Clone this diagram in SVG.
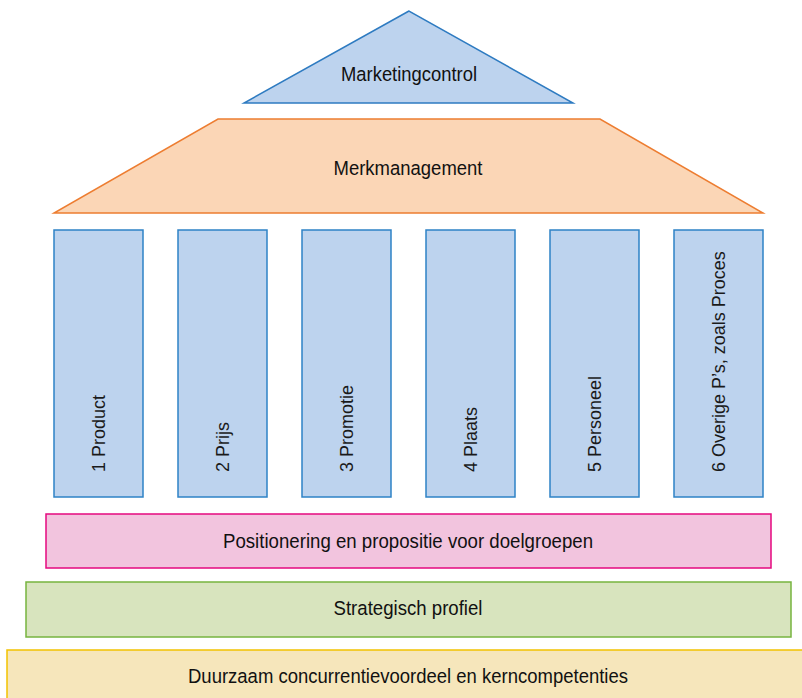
<svg xmlns="http://www.w3.org/2000/svg" width="802" height="698" viewBox="0 0 802 698">
  <style>
    .lbl { font-family: "Liberation Sans", Arial, sans-serif; font-size: 20.5px; fill: #111; text-anchor: middle; }
    .col rect { fill: #BDD3EE; stroke: #2E82C6; stroke-width: 1.5; }
    .col text { font-family: "Liberation Sans", Arial, sans-serif; font-size: 18px; fill: #1a1a1a; text-anchor: start; }
  </style>

  <!-- roof: marketing control -->
  <g id="marketingcontrol">
    <polygon points="409,11 244,103 573,103" fill="#BDD3EE" stroke="#2E7BC1" stroke-width="1.5"/>
    <text class="lbl" x="409" y="81" textLength="136" lengthAdjust="spacingAndGlyphs">Marketingcontrol</text>
  </g>

  <!-- pediment: brand management -->
  <g id="merkmanagement">
    <polygon points="218,119 600,119 763,213 54,213" fill="#FBD6B6" stroke="#ED7D31" stroke-width="1.5"/>
    <text class="lbl" x="408" y="175" textLength="149" lengthAdjust="spacingAndGlyphs">Merkmanagement</text>
  </g>

  <!-- the six pillars -->
  <g id="pillar1" class="col">
    <rect x="54" y="230" width="89" height="267"/>
    <text transform="translate(105,472) rotate(-90)">1 Product</text>
  </g>
  <g id="pillar2" class="col">
    <rect x="178" y="230" width="89" height="267"/>
    <text transform="translate(229,472) rotate(-90)">2 Prijs</text>
  </g>
  <g id="pillar3" class="col">
    <rect x="302" y="230" width="89" height="267"/>
    <text transform="translate(353,472) rotate(-90)">3 Promotie</text>
  </g>
  <g id="pillar4" class="col">
    <rect x="426" y="230" width="89" height="267"/>
    <text transform="translate(477,472) rotate(-90)">4 Plaats</text>
  </g>
  <g id="pillar5" class="col">
    <rect x="550" y="230" width="89" height="267"/>
    <text transform="translate(601,472) rotate(-90)">5 Personeel</text>
  </g>
  <g id="pillar6" class="col">
    <rect x="674" y="230" width="89" height="267"/>
    <text transform="translate(725,472) rotate(-90)">6 Overige P’s, zoals Proces</text>
  </g>

  <!-- foundation layers -->
  <g id="positionering">
    <rect x="46" y="514" width="725" height="54" fill="#F2C4DE" stroke="#E5097F" stroke-width="1.5"/>
    <text class="lbl" x="408" y="548" textLength="370" lengthAdjust="spacingAndGlyphs">Positionering en propositie voor doelgroepen</text>
  </g>
  <g id="strategisch-profiel">
    <rect x="26" y="582" width="765" height="55" fill="#D8E4BE" stroke="#77B43F" stroke-width="1.5"/>
    <text class="lbl" x="408" y="615" textLength="149" lengthAdjust="spacingAndGlyphs">Strategisch profiel</text>
  </g>
  <g id="kerncompetenties">
    <rect x="7" y="650" width="800" height="60" fill="#F6E6BB" stroke="#F2C200" stroke-width="1.5"/>
    <text class="lbl" x="408" y="683" textLength="440" lengthAdjust="spacingAndGlyphs">Duurzaam concurrentievoordeel en kerncompetenties</text>
  </g>

  <g id="connectors"/>
</svg>
